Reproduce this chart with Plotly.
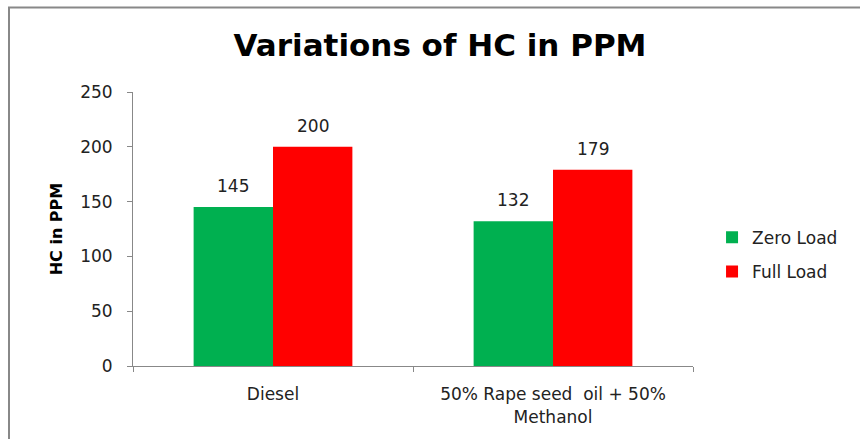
import plotly.graph_objects as go

categories = ["Diesel", "50% Rape seed  oil + 50%<br>Methanol"]
zero_load = [145, 132]
full_load = [200, 179]
series_names = ["Zero Load", "Full Load"]
colors = ["#00B050", "#FF0000"]
y_ticks = [0, 50, 100, 150, 200, 250]

FONT = "DejaVu Sans"
TXT = "#222222"

fig = go.Figure()
for name, vals, col, grp in zip(series_names, [zero_load, full_load], colors, ["a", "b"]):
    fig.add_trace(go.Bar(
        x=categories, y=vals, name=name, marker=dict(color=col, line=dict(width=0)),
        legendgroup=grp,
    ))

# data labels
for vals, shift in [(zero_load, -40), (full_load, 40)]:
    for c, v in zip(categories, vals):
        fig.add_annotation(x=c, y=v, text=str(v), showarrow=False, xshift=shift,
                           yshift=21, yanchor="middle",
                           font=dict(family=FONT, size=17, color=TXT))

fig.update_layout(
    width=860, height=439,
    margin=dict(l=133, r=167, t=92, b=71),
    paper_bgcolor="white", plot_bgcolor="white",
    barmode="group", bargap=0.433, bargroupgap=0,
    title=dict(text="<b>Variations of HC in PPM</b>", x=440/860, xanchor="center",
               y=1 - 45/439, yanchor="middle",
               font=dict(family=FONT, size=31, color="black")),
    legend=dict(x=1.034, y=0.406, xanchor="left", yanchor="middle",
                font=dict(family=FONT, size=17, color=TXT), tracegroupgap=9,
                bgcolor="rgba(0,0,0,0)"),
    showlegend=True,
    shapes=[dict(type="rect", xref="paper", yref="paper",
                 x0=(9 - 133) / 560, x1=1.5, y0=(368 - 7) / 276, y1=-0.5,
                 line=dict(color="#888888", width=2), layer="below")],
)
fig.update_xaxes(
    showline=True, linecolor="#888888", linewidth=1, showgrid=False,
    ticks="outside", ticklen=5, tickcolor="#888888", tickson="boundaries",
    tickfont=dict(family=FONT, size=17, color=TXT), ticklabelstandoff=13,
)
fig.update_yaxes(
    range=[0, 250], tickvals=y_ticks, showline=True, linecolor="#888888", linewidth=1,
    showgrid=False, zeroline=False, ticks="outside", ticklen=5, tickcolor="#888888",
    tickfont=dict(family=FONT, size=17, color=TXT), ticklabelstandoff=11,
    title=dict(text="<b>HC in PPM</b>", font=dict(family=FONT, size=16, color="black"), standoff=13),
)
fig.write_html("out.html", config={"displayModeBar": False},
               post_script="document.body.style.margin='0';")
